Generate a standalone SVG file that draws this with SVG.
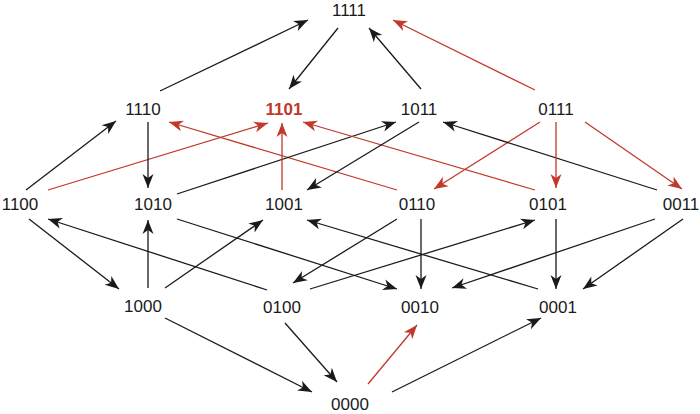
<svg xmlns="http://www.w3.org/2000/svg" width="700" height="414" viewBox="0 0 700 414">
<style>
text{font-family:"Liberation Sans",Arial,sans-serif;font-size:17px;fill:#1a1a1a;text-anchor:middle}
text.hl{fill:#c0392b;font-weight:bold}
line{stroke-width:1.3;fill:none}
.k{stroke:#1a1a1a;marker-end:url(#ak)}
.r{stroke:#c0392b;marker-end:url(#ar)}
</style>
<defs>
<marker id="ak" markerUnits="userSpaceOnUse" viewBox="-15 -7 16 14" refX="0" refY="0" markerWidth="16" markerHeight="14" orient="auto">
<path d="M0,0 L-14,-5.5 L-10,0 L-14,5.5 Z" fill="#1a1a1a"/>
</marker>
<marker id="ar" markerUnits="userSpaceOnUse" viewBox="-15 -7 16 14" refX="0" refY="0" markerWidth="16" markerHeight="14" orient="auto">
<path d="M0,0 L-14,-5.5 L-10,0 L-14,5.5 Z" fill="#c0392b"/>
</marker>
</defs>
<g id="connectors">
<line class="k" x1="160" y1="91" x2="308" y2="20"/>
<line class="k" x1="338" y1="28" x2="289" y2="89"/>
<line class="k" x1="421" y1="89" x2="369" y2="28"/>
<line class="r" x1="535" y1="90" x2="393" y2="20"/>
<line class="k" x1="26" y1="190" x2="116" y2="121"/>
<line class="r" x1="48" y1="190" x2="268" y2="123"/>
<line class="k" x1="148" y1="122" x2="148" y2="188"/>
<line class="r" x1="397" y1="190" x2="169" y2="122"/>
<line class="k" x1="177" y1="194" x2="396" y2="122"/>
<line class="r" x1="282" y1="190" x2="282" y2="123"/>
<line class="r" x1="535" y1="190" x2="303" y2="122"/>
<line class="k" x1="419" y1="122" x2="307" y2="190"/>
<line class="r" x1="540" y1="122" x2="434" y2="189"/>
<line class="k" x1="657" y1="190" x2="443" y2="122"/>
<line class="r" x1="556" y1="122" x2="556" y2="188"/>
<line class="r" x1="585" y1="122" x2="682" y2="189"/>
<line class="k" x1="29" y1="219" x2="119" y2="289"/>
<line class="k" x1="267" y1="290" x2="48" y2="219"/>
<line class="k" x1="148" y1="288" x2="148" y2="220"/>
<line class="k" x1="165" y1="288" x2="263" y2="220"/>
<line class="k" x1="177" y1="219" x2="397" y2="289"/>
<line class="k" x1="397" y1="219" x2="293" y2="283"/>
<line class="k" x1="421" y1="219" x2="421" y2="289"/>
<line class="k" x1="538" y1="289" x2="307" y2="220"/>
<line class="k" x1="310" y1="289" x2="535" y2="220"/>
<line class="k" x1="655" y1="219" x2="452" y2="288"/>
<line class="k" x1="556" y1="219" x2="556" y2="289"/>
<line class="k" x1="683" y1="219" x2="583" y2="289"/>
<line class="k" x1="165" y1="318" x2="312" y2="392"/>
<line class="k" x1="285" y1="323" x2="337" y2="382"/>
<line class="r" x1="368" y1="384" x2="417" y2="325"/>
<line class="k" x1="392" y1="392" x2="541" y2="318"/>
</g>
<g id="n1111"><text x="349" y="15.5">1111</text></g>
<g id="n1110"><text x="143" y="114.5">1110</text></g>
<g id="n1101"><text class="hl" x="284" y="114.5">1101</text></g>
<g id="n1011"><text x="419" y="114.5">1011</text></g>
<g id="n0111"><text x="556" y="114.5">0111</text></g>
<g id="n1100"><text x="20" y="210">1100</text></g>
<g id="n1010"><text x="153" y="210">1010</text></g>
<g id="n1001"><text x="284" y="210">1001</text></g>
<g id="n0110"><text x="417" y="210">0110</text></g>
<g id="n0101"><text x="548" y="210">0101</text></g>
<g id="n0011"><text x="681" y="210">0011</text></g>
<g id="n1000"><text x="143" y="312">1000</text></g>
<g id="n0100"><text x="282" y="312.5">0100</text></g>
<g id="n0010"><text x="420" y="312.5">0010</text></g>
<g id="n0001"><text x="558" y="312.5">0001</text></g>
<g id="n0000"><text x="350" y="410">0000</text></g>
</svg>
